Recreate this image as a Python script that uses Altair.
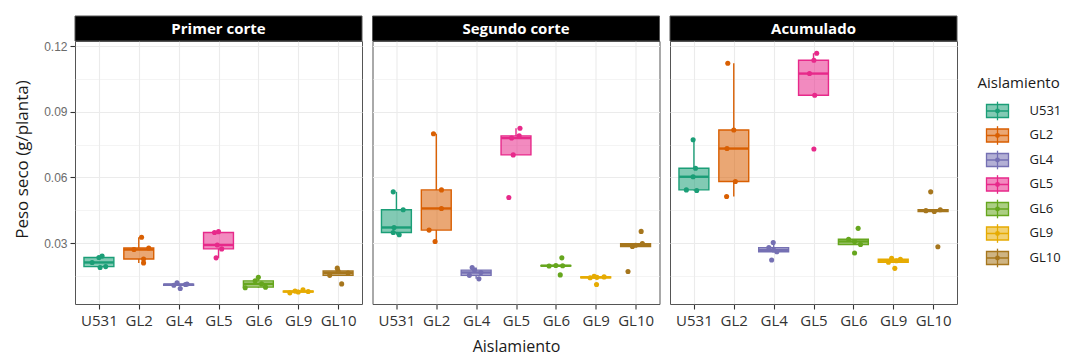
import json
import altair as alt
import pandas as pd

paneles = ["Primer corte", "Segundo corte", "Acumulado"]
aislamientos = ["U531", "GL2", "GL4", "GL5", "GL6", "GL9", "GL10"]
colores = ["#1B9E77", "#D95F02", "#7570B3", "#E7298A", "#66A61E", "#E6AB02", "#A6761D"]

# Peso seco (g/planta), 5 plantas por aislamiento
primer_corte = {
    "U531": [0.0188, 0.0192, 0.0211, 0.0234, 0.0240],
    "GL2": [0.0209, 0.0227, 0.0270, 0.0277, 0.0326],
    "GL4": [0.0092, 0.0107, 0.0110, 0.0112, 0.0118],
    "GL5": [0.0232, 0.0273, 0.0291, 0.0348, 0.0352],
    "GL6": [0.0095, 0.0098, 0.0113, 0.0127, 0.0143],
    "GL9": [0.0072, 0.0076, 0.0078, 0.0080, 0.0086],
    "GL10": [0.0113, 0.0152, 0.0163, 0.0172, 0.0185],
}
segundo_corte = {
    "U531": [0.0338, 0.0348, 0.0371, 0.0452, 0.0534],
    "GL2": [0.0307, 0.0359, 0.0458, 0.0543, 0.0800],
    "GL4": [0.0136, 0.0152, 0.0165, 0.0176, 0.0188],
    "GL5": [0.0508, 0.0703, 0.0780, 0.0790, 0.0825],
    "GL6": [0.0154, 0.0195, 0.0196, 0.0197, 0.0232],
    "GL9": [0.0110, 0.0141, 0.0143, 0.0145, 0.0148],
    "GL10": [0.0170, 0.0284, 0.0290, 0.0297, 0.0353],
}
acumulado = {
    "U531": [0.0540, 0.0543, 0.0603, 0.0642, 0.0772],
    "GL2": [0.0513, 0.0581, 0.0732, 0.0817, 0.1122],
    "GL4": [0.0222, 0.0260, 0.0268, 0.0279, 0.0302],
    "GL5": [0.0730, 0.0976, 0.1075, 0.1136, 0.1168],
    "GL6": [0.0254, 0.0293, 0.0307, 0.0317, 0.0367],
    "GL9": [0.0184, 0.0212, 0.0219, 0.0226, 0.0230],
    "GL10": [0.0283, 0.0444, 0.0448, 0.0452, 0.0534],
}

# horizontal jitter of each point (in category units)
jit_primer = {
    "U531": [0.03, 0.17, -0.17, 0.0, 0.08],
    "GL2": [0.12, 0.12, -0.12, 0.25, 0.07],
    "GL4": [0.04, -0.12, 0.17, 0.21, -0.04],
    "GL5": [-0.06, 0.08, -0.03, -0.1, 0.0],
    "GL6": [-0.33, 0.18, 0.08, -0.08, 0.0],
    "GL9": [-0.21, 0.0, 0.25, -0.08, 0.12],
    "GL10": [0.09, -0.21, 0.25, 0.0, -0.02],
}
jit_segundo = {
    "U531": [0.07, -0.08, -0.06, 0.17, -0.08],
    "GL2": [-0.03, -0.18, 0.13, 0.13, -0.07],
    "GL4": [0.07, -0.17, 0.12, -0.04, -0.1],
    "GL5": [-0.18, -0.07, -0.11, 0.08, 0.1],
    "GL6": [0.11, -0.17, 0.17, 0.0, 0.15],
    "GL9": [0.02, -0.14, 0.03, 0.21, -0.04],
    "GL10": [-0.19, -0.08, 0.0, 0.17, 0.14],
}
jit_acumulado = {
    "U531": [0.07, -0.19, -0.02, 0.04, -0.02],
    "GL2": [-0.18, 0.04, -0.17, 0.0, -0.15],
    "GL4": [-0.05, 0.08, 0.0, -0.12, -0.01],
    "GL5": [0.01, 0.03, -0.1, 0.01, 0.08],
    "GL6": [0.03, 0.18, 0.03, -0.12, 0.12],
    "GL9": [0.04, -0.12, 0.08, 0.18, -0.04],
    "GL10": [0.12, 0.03, -0.18, 0.18, -0.06],
}

rows = []
for panel, vals, jits in [
    (paneles[0], primer_corte, jit_primer),
    (paneles[1], segundo_corte, jit_segundo),
    (paneles[2], acumulado, jit_acumulado),
]:
    for i, a in enumerate(aislamientos):
        for v, j in zip(vals[a], jits[a]):
            rows.append({"panel": panel, "aisl": a, "idx": i + 1, "peso": v, "jit": j})
df = pd.DataFrame(rows)

W, H = 287, 263
STRIP = 25
FONT = "Open Sans"
xscale = alt.Scale(domain=[0.4, 7.6], nice=False, zero=False)
yscale = alt.Scale(domain=[0.0021, 0.1224], nice=False, zero=False)
cscale = alt.Scale(domain=aislamientos, range=colores)
label_expr = "%s[datum.value - 1]" % json.dumps(aislamientos)
major = "round(datum.value * 1000) % 30 == 0"
yvals = [0.015, 0.03, 0.045, 0.06, 0.075, 0.09, 0.105, 0.12]


def x_axis(with_title):
    kw = dict(
        values=list(range(1, 8)), labelExpr=label_expr, grid=True, gridWidth=1.1,
        domain=False, tickSize=5, tickColor="#333333", tickWidth=1.1,
        labelFont=FONT, labelFontSize=15, labelColor="#333333", labelPadding=4,
        titleFont=FONT, titleFontSize=16, titleFontWeight="normal", titleColor="#1a1a1a",
        titlePadding=10,
    )
    kw["title"] = "Aislamiento" if with_title else None
    return alt.Axis(**kw)


def y_axis(first):
    kw = dict(
        values=yvals, grid=True, domain=False,
        gridWidth={"condition": {"test": major, "value": 1.1}, "value": 0.55},
    )
    if first:
        kw.update(
            labelExpr=major + " ? format(datum.value, '.2f') : ''",
            tickOpacity={"condition": {"test": major, "value": 1}, "value": 0},
            tickSize=5, tickColor="#333333", tickWidth=1.1,
            labelFont="Liberation Sans", labelFontSize=12, labelColor="#6b6b6b", labelPadding=3,
            title="Peso seco (g/planta)", titleFont=FONT, titleFontSize=17,
            titleFontWeight="normal", titleColor="#1a1a1a", titlePadding=12, titleY=118,
        )
    else:
        kw.update(labels=False, ticks=False, title=None)
    return alt.Axis(**kw)


def panel(name, first, mid):
    X = lambda f: alt.X(f, scale=xscale, axis=x_axis(mid))
    Y = lambda f: alt.Y(f, scale=yscale, axis=y_axis(first))
    col = lambda: alt.Color("aisl:N", scale=cscale, legend=None)
    base = alt.Chart(df).transform_filter(alt.datum.panel == name)

    stats = base.transform_aggregate(
        q1="q1(peso)", med="median(peso)", q3="q3(peso)", groupby=["aisl", "idx"]
    ).transform_calculate(xl="datum.idx - 0.375", xr="datum.idx + 0.375")
    box = stats.mark_bar(fillOpacity=0.55, strokeWidth=1.4).encode(
        x=X("xl:Q"), x2="xr:Q", y=Y("q1:Q"), y2="q3:Q",
        fill=col(), stroke=alt.Stroke("aisl:N", scale=cscale, legend=None),
    )
    med = stats.mark_rule(strokeWidth=2.4).encode(
        x=X("xl:Q"), x2="xr:Q", y=Y("med:Q"), color=col()
    )
    wh = base.transform_joinaggregate(
        q1="q1(peso)", q3="q3(peso)", groupby=["aisl"]
    ).transform_calculate(
        lo="datum.q1 - 1.5 * (datum.q3 - datum.q1)",
        hi="datum.q3 + 1.5 * (datum.q3 - datum.q1)",
    ).transform_filter(
        "datum.peso >= datum.lo && datum.peso <= datum.hi"
    ).transform_aggregate(
        wmin="min(peso)", wmax="max(peso)", q1="min(q1)", q3="min(q3)", groupby=["aisl", "idx"]
    )
    up = wh.mark_rule(strokeWidth=1.4).encode(x=X("idx:Q"), y=Y("q3:Q"), y2="wmax:Q", color=col())
    lo = wh.mark_rule(strokeWidth=1.4).encode(x=X("idx:Q"), y=Y("wmin:Q"), y2="q1:Q", color=col())
    pts = base.transform_calculate(xj="datum.idx + datum.jit").mark_circle(
        size=26, opacity=1
    ).encode(x=X("xj:Q"), y=Y("peso:Q"), color=col())

    hdr = alt.Chart(pd.DataFrame({"panel": [name]}))
    strip = hdr.mark_rect(fill="black", stroke="#555555", strokeWidth=1).encode(
        x=alt.value(0), x2=alt.value(W), y=alt.value(-STRIP), y2=alt.value(0)
    )
    stext = hdr.mark_text(
        color="white", font=FONT, fontSize=15, fontWeight="bold", baseline="middle", align="center"
    ).encode(x=alt.value(W / 2), y=alt.value(-STRIP / 2), text="panel:N")

    return alt.layer(box, lo, up, med, pts, strip, stext).properties(width=W, height=H)


# legend
leg_df = pd.DataFrame({"aisl": aislamientos, "i": list(range(len(aislamientos)))})
LY = alt.Scale(domain=[-2.857, 7.878], reverse=True, nice=False, zero=False)
lbase = alt.Chart(leg_df)
lcol = alt.Color("aisl:N", scale=cscale, legend=None)
lwh = lbase.transform_calculate(a="datum.i - 0.38", b="datum.i + 0.38").mark_rule(
    strokeWidth=1.3
).encode(x=alt.value(31), y=alt.Y("a:Q", scale=LY, axis=None), y2="b:Q", color=lcol)
lbox = lbase.mark_point(
    shape="M-1,-0.59L1,-0.59L1,0.59L-1,0.59Z", size=484, filled=True,
    fillOpacity=0.55, strokeWidth=1.3, strokeOpacity=1, opacity=1,
).encode(
    x=alt.value(31), y=alt.Y("i:Q", scale=LY, axis=None), fill=lcol,
    stroke=alt.Stroke("aisl:N", scale=cscale, legend=None),
)
lmed = lbase.mark_rule(strokeWidth=1.5).encode(
    x=alt.value(20), x2=alt.value(42), y=alt.Y("i:Q", scale=LY, axis=None), color=lcol
)
ldot = lbase.mark_circle(size=24, opacity=1).encode(
    x=alt.value(31), y=alt.Y("i:Q", scale=LY, axis=None), color=lcol
)
ltxt = lbase.mark_text(
    align="left", baseline="middle", font=FONT, fontSize=13, color="#1a1a1a"
).encode(x=alt.value(63), y=alt.Y("i:Q", scale=LY, axis=None), text="aisl:N")
lt = alt.Chart(pd.DataFrame({"t": ["Aislamiento"]}))
ltitle = lt.mark_text(
    align="left", baseline="alphabetic", font=FONT, fontSize=15, color="#1a1a1a"
).encode(x=alt.value(11), y=alt.value(47), text="t:N")
lspacer = lt.mark_rect(opacity=0).encode(
    x=alt.value(0), x2=alt.value(10), y=alt.value(-STRIP), y2=alt.value(0)
)
legend = alt.layer(lspacer, lwh, lbox, lmed, ldot, ltxt, ltitle).properties(
    width=84, height=H, view=alt.ViewBackground(stroke=None)
)

chart = alt.hconcat(
    panel(paneles[0], True, False),
    panel(paneles[1], False, True),
    panel(paneles[2], False, False),
    legend,
    spacing=8.5,
).properties(
    padding={"left": 5, "top": 7, "right": 0, "bottom": 0}, background="white"
).configure_view(stroke="#555555", strokeWidth=1).configure_axis(gridColor="#ebebeb")

chart.save("out.html", embed_options={"renderer": "svg", "actions": False})
